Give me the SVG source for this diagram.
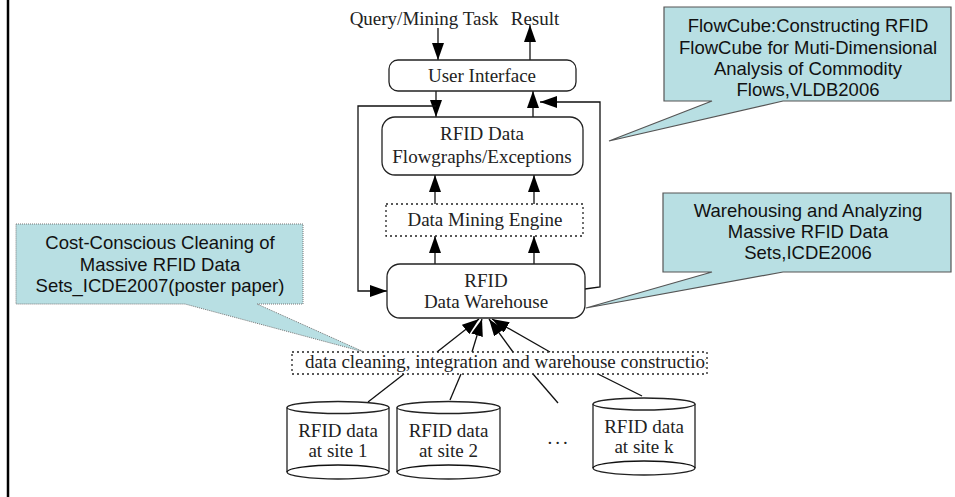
<svg xmlns="http://www.w3.org/2000/svg" width="955" height="497" viewBox="0 0 955 497">
  <style>
    .box { fill: #fff; stroke: #222; stroke-width: 1.3; }
    .dash { fill: none; stroke: #222; stroke-width: 1.3; stroke-dasharray: 2 3; }
    .serif { font-family: "Liberation Serif", "Times New Roman", serif; font-size: 19px; fill: #222; text-anchor: middle; }
    .serif-left { font-family: "Liberation Serif", "Times New Roman", serif; font-size: 19px; fill: #222; text-anchor: start; }
    .sans { font-family: "Liberation Sans", Arial, sans-serif; font-size: 18.5px; fill: #111; text-anchor: middle; }
    .conn { fill: none; stroke: #111; stroke-width: 1.3; }
    .arrow { marker-end: url(#ah); }
    .callout { fill: #b8dfe3; stroke: #555; stroke-width: 1.2; }
    .callout-dot { fill: #b8dfe3; stroke: #777; stroke-width: 1; stroke-dasharray: 1 1; }
  </style>
  <defs>
    <marker id="ah" viewBox="0 0 17 12" refX="17" refY="6" markerWidth="17" markerHeight="12" markerUnits="userSpaceOnUse" orient="auto">
      <path d="M0,0 L17,6 L0,12 z" fill="#000"/>
    </marker>
    <clipPath id="cleanClip"><rect x="292" y="350" width="414" height="28"/></clipPath>
  </defs>
  <rect width="955" height="497" fill="#fff"/>

  <!-- page edge -->
  <line x1="8" y1="0" x2="8" y2="497" stroke="#000" stroke-width="2.5"/>

  <!-- top labels -->
  <text class="serif" x="424" y="25">Query/Mining Task</text>
  <text class="serif" x="535" y="25">Result</text>

  <!-- connectors -->
  <g id="connectors">
    <path class="conn arrow" d="M438,28 L438,60"/>
    <path class="conn arrow" d="M530,60 L530,25"/>
    <path class="conn arrow" d="M436,91 L436,117"/>
    <path class="conn arrow" d="M533,117 L533,91"/>
    <path class="conn arrow" d="M585,289 L600,287 L600,102 L540,102"/>
    <path class="conn arrow" d="M436,106 L358,106 L358,291 L387,291"/>
    <path class="conn arrow" d="M435,204 L435,175"/>
    <path class="conn arrow" d="M534,204 L534,175"/>
    <path class="conn arrow" d="M435,264 L435,236"/>
    <path class="conn arrow" d="M534,264 L534,236"/>
    <path class="conn arrow" d="M437,352 L479,319"/>
    <path class="conn arrow" d="M472,352 L482,319"/>
    <path class="conn arrow" d="M513,352 L489,319"/>
    <path class="conn arrow" d="M550,352 L492,319"/>
    <path class="conn" d="M368,402 L404,374"/>
    <path class="conn" d="M450,400 L461,374"/>
    <path class="conn" d="M558,403 L533,374"/>
    <path class="conn" d="M642,396 L598,374"/>
  </g>

  <g id="user-interface">
    <rect class="box" x="389" y="60" width="187" height="31" rx="9"/>
    <text class="serif" x="482" y="82">User Interface</text>
  </g>

  <g id="flowgraphs">
    <rect class="box" x="382" y="117" width="201" height="58" rx="13"/>
    <text class="serif" x="482" y="140">RFID Data</text>
    <text class="serif" x="482" y="163">Flowgraphs/Exceptions</text>
  </g>

  <g id="mining-engine">
    <rect class="dash" x="386" y="204" width="197" height="32"/>
    <text class="serif" x="485" y="226">Data Mining Engine</text>
  </g>

  <g id="warehouse">
    <rect class="box" x="387" y="264" width="198" height="54" rx="13"/>
    <text class="serif" x="486" y="287">RFID</text>
    <text class="serif" x="486" y="308">Data Warehouse</text>
  </g>

  <g id="cleaning">
    <rect class="dash" x="292" y="352" width="415" height="22"/>
    <text class="serif-left" x="305" y="368" clip-path="url(#cleanClip)">data cleaning, integration and warehouse construction</text>
  </g>

  <g id="site-1">
    <path class="box" d="M287,407.5 L287,472 A51,7 0 0 0 389,472 L389,407.5"/>
    <ellipse class="box" cx="338" cy="407.5" rx="51" ry="6"/>
    <path class="conn" d="M287,472 A51,7 0 0 1 389,472"/>
    <text class="serif" x="338" y="437">RFID data</text>
    <text class="serif" x="338" y="457">at site 1</text>
  </g>

  <g id="site-2">
    <path class="box" d="M397,407.5 L397,472 A51.5,7 0 0 0 500,472 L500,407.5"/>
    <ellipse class="box" cx="448.5" cy="407.5" rx="51.5" ry="6"/>
    <path class="conn" d="M397,472 A51.5,7 0 0 1 500,472"/>
    <text class="serif" x="448.5" y="437">RFID data</text>
    <text class="serif" x="448.5" y="457">at site 2</text>
  </g>

  <text class="serif" x="559" y="444" font-size="21" letter-spacing="3">...</text>

  <g id="site-k">
    <path class="box" d="M593,404 L593,468 A51,7 0 0 0 695,468 L695,404"/>
    <ellipse class="box" cx="644" cy="404" rx="51" ry="6"/>
    <path class="conn" d="M593,468 A51,7 0 0 1 695,468"/>
    <text class="serif" x="644" y="433">RFID data</text>
    <text class="serif" x="644" y="453">at site k</text>
  </g>

  <g id="note-flowcube">
    <path class="callout" d="M664,7 H951 V101 H783 L609,141 L712,101 H664 Z"/>
    <text class="sans" x="808" y="32">FlowCube:Constructing RFID</text>
    <text class="sans" x="808" y="54">FlowCube for Muti-Dimensional</text>
    <text class="sans" x="808" y="75">Analysis of Commodity</text>
    <text class="sans" x="808" y="96">Flows,VLDB2006</text>
  </g>

  <g id="note-warehousing">
    <path class="callout" d="M663,193 H951 V272 H783 L586,308 L712,272 H663 Z"/>
    <text class="sans" x="808" y="217">Warehousing and Analyzing</text>
    <text class="sans" x="808" y="238">Massive RFID Data</text>
    <text class="sans" x="808" y="259">Sets,ICDE2006</text>
  </g>

  <g id="note-cleaning">
    <path class="callout-dot" d="M16,224 H303 V304 H257 L364,352 L185,304 H16 Z"/>
    <text class="sans" x="160" y="249">Cost-Conscious Cleaning of</text>
    <text class="sans" x="160" y="271">Massive RFID Data</text>
    <text class="sans" x="160" y="292">Sets_ICDE2007(poster paper)</text>
  </g>
</svg>
